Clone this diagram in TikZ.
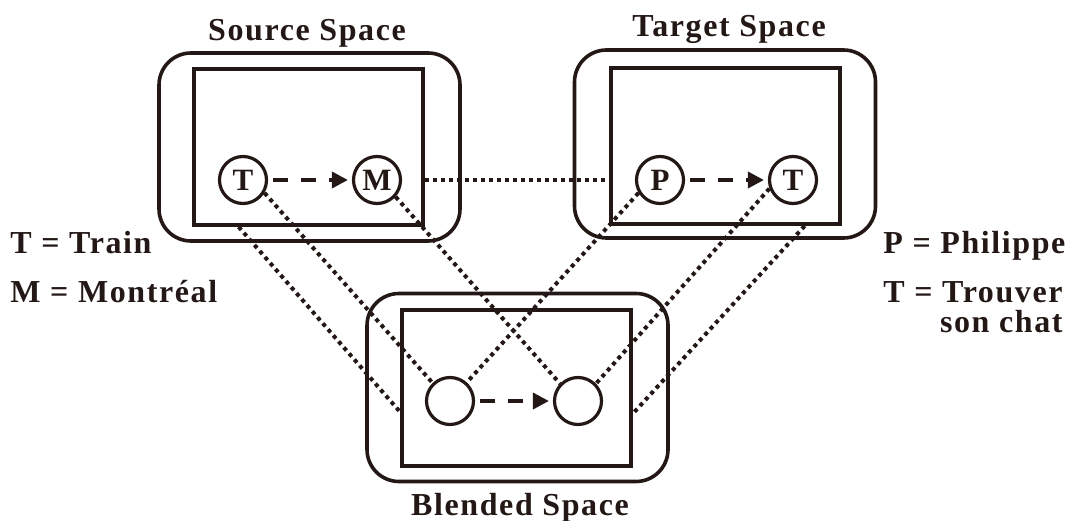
\documentclass[tikz,border=0pt]{standalone}
\usepackage{fontspec}
\setmainfont{Liberation Serif}[LetterSpace=5]
\usetikzlibrary{arrows.meta,calc}

\definecolor{ink}{HTML}{231815}

\tikzset{
    outerbox/.style={draw=ink, line width=1.8pt, rounded corners=16pt,
        minimum width=150.5pt, minimum height=94pt},
    innerbox/.style={draw=ink, line width=1.9pt,
        minimum width=114.5pt, minimum height=78pt},
    spot/.style={draw=ink, circle, line width=1.6pt, minimum size=23.5pt,
        inner sep=0pt, text=ink, font=\fontsize{15.5}{15.5}\selectfont\bfseries},
    link/.style={draw=ink, line width=2pt, dash pattern=on 2pt off 2pt},
    mapto/.style={draw=ink, line width=1.8pt, dash pattern=on 7.5pt off 6.5pt,
        -{Triangle[length=8pt,width=8pt]}, shorten <=2.5pt, shorten >=2pt},
    spacename/.style={inner sep=0pt, anchor=base, text=ink,
        font=\fontsize{16}{16}\selectfont\bfseries},
    keyline/.style={inner sep=0pt, text=ink,
        font=\fontsize{16}{16}\selectfont\bfseries},
}

\begin{document}
\begin{tikzpicture}[x=0.5pt, y=0.5pt]
    \useasboundingbox (0,0) rectangle (1074,520);

    % the three spaces
    \node[outerbox] (srcOut) at (309.5,373) {};
    \node[innerbox] (srcIn) at (308.5,373) {};
    \node[outerbox] (tgtOut) at (725,376) {};
    \node[innerbox] (tgtIn) at (725.5,374) {};
    \node[outerbox] (blOut) at (517.5,132.5) {};
    \node[innerbox] (blIn) at (516.5,132) {};

    \node[spacename] (srcName) at (307,479) {Source Space};
    \node[spacename] (tgtName) at (729,483) {Target Space};
    \node[spacename] (blName) at (520,5) {Blended Space};

    % elements
    \node[spot] (sT) at (243,340) {T};
    \node[spot] (sM) at (377,340) {M};
    \node[spot] (tP) at (660,340) {P};
    \node[spot] (tT) at (793,340) {T};
    \node[spot] (bL) at (450,119) {};
    \node[spot] (bR) at (578,119) {};

    \draw[mapto] (sT) -- (sM);
    \draw[mapto] (tP) -- (tT);
    \draw[mapto] (bL) -- (bR);

    % projections
    \draw[link] (srcIn.east |- sM) -- (tgtIn.west |- tP);
    \draw[link] (sT.-31) -- (bL.134);
    \draw[link] (sM.-42) -- (bR.136);
    \draw[link] (tP.211) -- (bL.48);
    \draw[link] (tT.200) -- (bR.44);
    \draw[link] ($(srcIn.south west)!0.2!(srcIn.south east)$)
        -- ($(blIn.south west)!0.35!(blIn.north west)$);
    \draw[link] ($(tgtIn.south west)!0.84!(tgtIn.south east)$)
        -- ($(blIn.south east)!0.34!(blIn.north east)$);

    % keys
    \node[keyline, anchor=base west] (kTrain) at (10,267) {T = Train};
    \node[keyline, anchor=base west] (kMontreal) at (10,218) {M = Montréal};
    \node[keyline, anchor=base west] (kPhilippe) at (883,267) {P = Philippe};
    \node[keyline, anchor=base west] (kTrouver) at (883,218) {T = Trouver};
    \node[keyline, anchor=base east] (kChat) at ($(kTrouver.base east)+(0,-30)$) {son chat};
\end{tikzpicture}
\end{document}
